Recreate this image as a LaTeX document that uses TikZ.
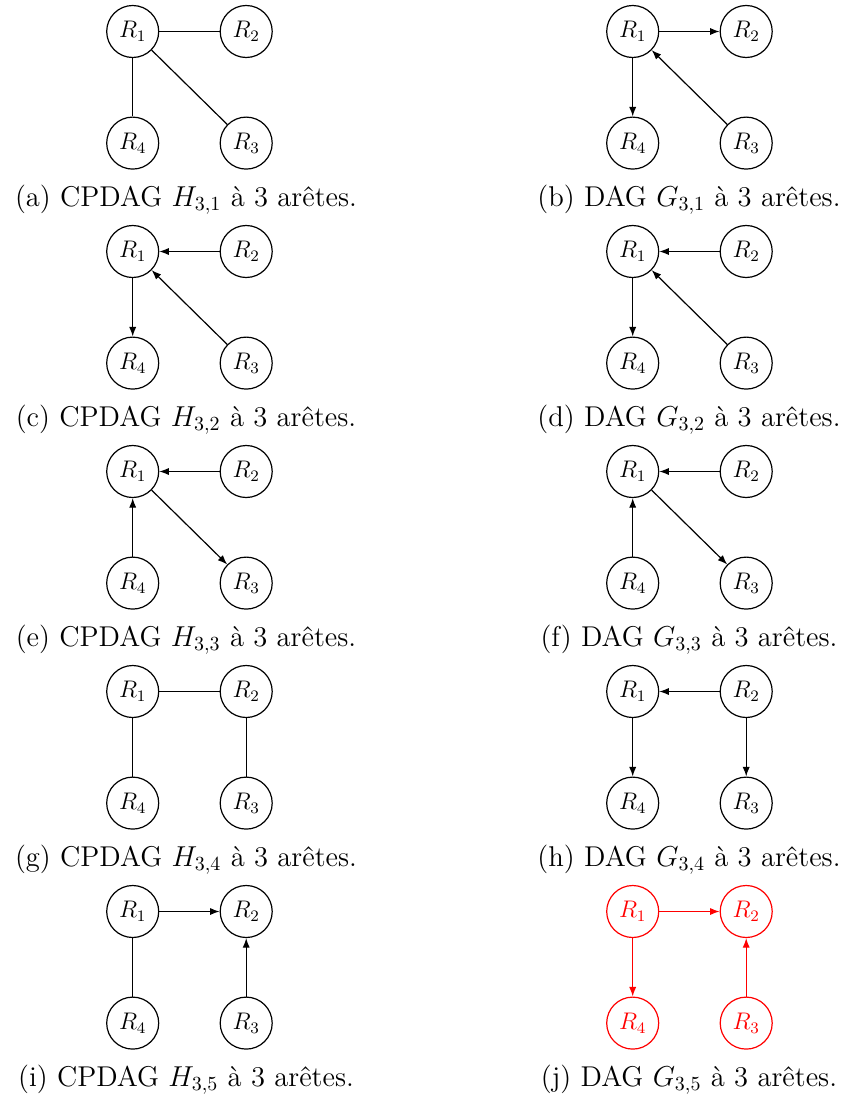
\documentclass[tikz,border=0pt]{standalone}
\usetikzlibrary{arrows.meta}
\tikzset{
  x=0.5pt, y=-0.5pt,
  vtx/.style={circle, draw, line width=0.6pt, minimum size=26pt, inner sep=0pt, font=\fontsize{12}{14}\selectfont},
  edge/.style={line width=0.6pt},
  arc/.style={line width=0.6pt, -{Latex[length=4.8pt,width=3.6pt]}},
  captext/.style={anchor=base, inner sep=0pt, font=\fontsize{14.3}{17}\selectfont},
  hl/.style={red}
}
\newcommand{\mkpanel}[4]{%
  \node[vtx,#4] (#1a) at (#2,#3) {$R_1$};
  \node[vtx,#4] (#1b) at (#2+113.5,#3) {$R_2$};
  \node[vtx,#4] (#1c) at (#2+113.5,#3+111.6) {$R_3$};
  \node[vtx,#4] (#1d) at (#2,#3+111.6) {$R_4$};
}
\begin{document}
\begin{tikzpicture}
\useasboundingbox (0,0) rectangle (848,1102);
% row 1
\mkpanel{A}{132.7}{31.5}{}
\draw[edge] (Aa) -- (Ab);
\draw[edge] (Aa) -- (Ad);
\draw[edge] (Aa) -- (Ac);
\node[captext] (capA) at (186,206) {(a) CPDAG $H_{3,1}$ à 3 arêtes.};
\mkpanel{B}{632.7}{31.5}{}
\draw[arc] (Ba) -- (Bb);
\draw[arc] (Ba) -- (Bd);
\draw[arc] (Bc) -- (Ba);
\node[captext] (capB) at (689,206) {(b) DAG $G_{3,1}$ à 3 arêtes.};
% row 2
\mkpanel{C}{132.7}{251.5}{}
\draw[arc] (Cb) -- (Ca);
\draw[arc] (Ca) -- (Cd);
\draw[arc] (Cc) -- (Ca);
\node[captext] (capC) at (186,426) {(c) CPDAG $H_{3,2}$ à 3 arêtes.};
\mkpanel{D}{632.7}{251.5}{}
\draw[arc] (Db) -- (Da);
\draw[arc] (Da) -- (Dd);
\draw[arc] (Dc) -- (Da);
\node[captext] (capD) at (689,426) {(d) DAG $G_{3,2}$ à 3 arêtes.};
% row 3
\mkpanel{E}{132.7}{471.5}{}
\draw[arc] (Eb) -- (Ea);
\draw[arc] (Ed) -- (Ea);
\draw[arc] (Ea) -- (Ec);
\node[captext] (capE) at (186,646) {(e) CPDAG $H_{3,3}$ à 3 arêtes.};
\mkpanel{F}{632.7}{471.5}{}
\draw[arc] (Fb) -- (Fa);
\draw[arc] (Fd) -- (Fa);
\draw[arc] (Fa) -- (Fc);
\node[captext] (capF) at (689,646) {(f) DAG $G_{3,3}$ à 3 arêtes.};
% row 4
\mkpanel{G}{132.7}{691.5}{}
\draw[edge] (Ga) -- (Gb);
\draw[edge] (Ga) -- (Gd);
\draw[edge] (Gb) -- (Gc);
\node[captext] (capG) at (186,866) {(g) CPDAG $H_{3,4}$ à 3 arêtes.};
\mkpanel{H}{632.7}{691.5}{}
\draw[arc] (Hb) -- (Ha);
\draw[arc] (Ha) -- (Hd);
\draw[arc] (Hb) -- (Hc);
\node[captext] (capH) at (689,866) {(h) DAG $G_{3,4}$ à 3 arêtes.};
% row 5
\mkpanel{I}{132.7}{911.5}{}
\draw[arc] (Ia) -- (Ib);
\draw[edge] (Ia) -- (Id);
\draw[arc] (Ic) -- (Ib);
\node[captext] (capI) at (186,1086) {(i) CPDAG $H_{3,5}$ à 3 arêtes.};
\mkpanel{J}{632.7}{911.5}{hl}
\draw[arc,hl] (Ja) -- (Jb);
\draw[arc,hl] (Ja) -- (Jd);
\draw[arc,hl] (Jc) -- (Jb);
\node[captext] (capJ) at (689,1086) {(j) DAG $G_{3,5}$ à 3 arêtes.};
\end{tikzpicture}
\end{document}
